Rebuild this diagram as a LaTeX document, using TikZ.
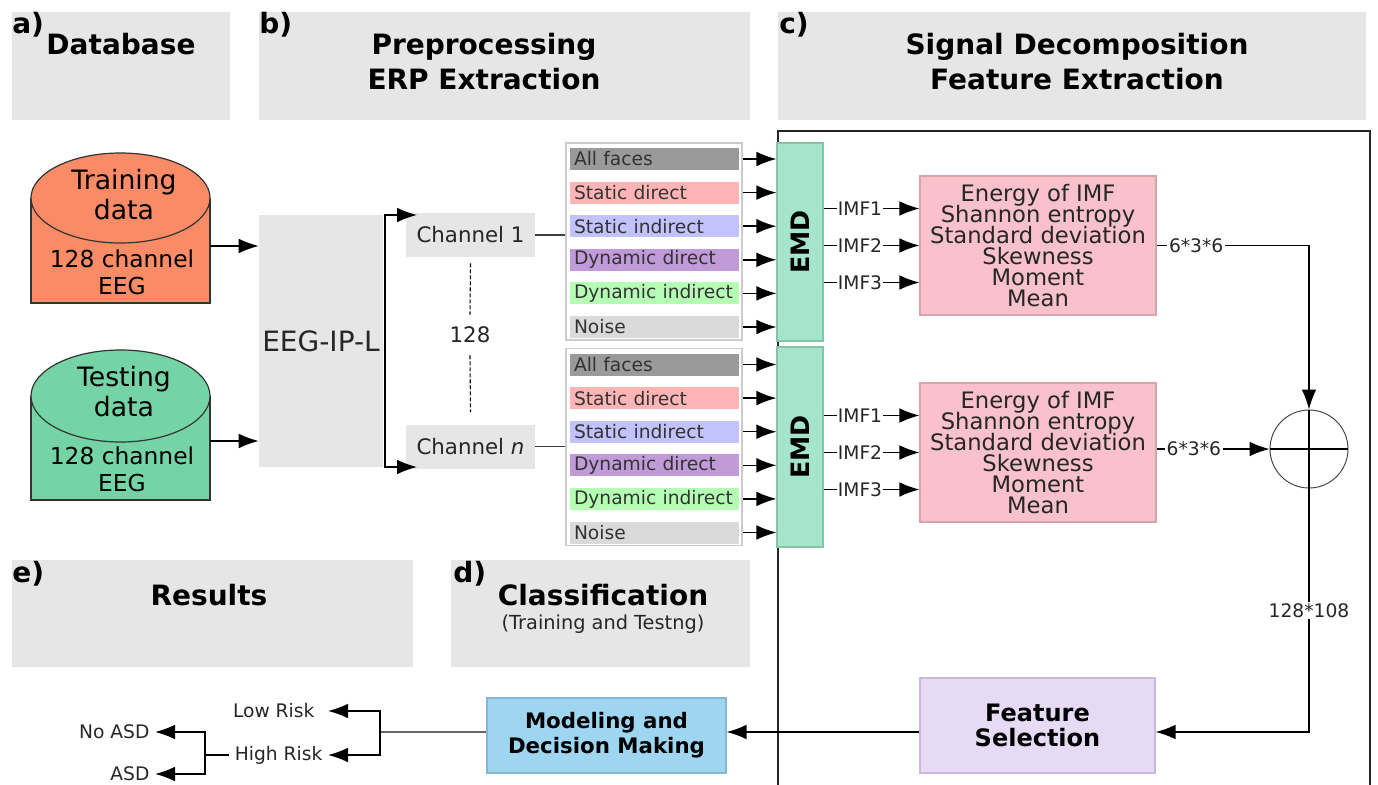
\documentclass[tikz,border=0pt]{standalone}
\usepackage{fontspec}
\setmainfont{DejaVu Sans}
\usetikzlibrary{arrows.meta,calc}
\definecolor{hdr}{HTML}{E6E6E6}
\definecolor{trainC}{HTML}{F98B66}
\definecolor{testC}{HTML}{74D4A6}
\definecolor{cAll}{HTML}{9A9A9A}
\definecolor{cSD}{HTML}{FFB5B5}
\definecolor{cSI}{HTML}{C2C2FF}
\definecolor{cDD}{HTML}{C19BD9}
\definecolor{cDI}{HTML}{B5FFB5}
\definecolor{cNo}{HTML}{DADADA}
\definecolor{emdC}{HTML}{A5E5CB}
\definecolor{emdD}{HTML}{86C4A8}
\definecolor{featC}{HTML}{F8C1CB}
\definecolor{featD}{HTML}{D9A3AC}
\definecolor{fsC}{HTML}{E7DAF5}
\definecolor{fsD}{HTML}{C9B9DE}
\definecolor{mdmC}{HTML}{9ED6F2}
\definecolor{mdmD}{HTML}{86B7D1}
\newcommand\fHead{\fontsize{21pt}{26.25pt}\selectfont\bfseries}
\newcommand\fSub{\fontsize{14.5pt}{17pt}\selectfont}
\newcommand\fCylA{\fontsize{20pt}{22.5pt}\selectfont}
\newcommand\fCylB{\fontsize{17.5pt}{20.25pt}\selectfont}
\newcommand\fEEG{\fontsize{21pt}{25pt}\selectfont}
\newcommand\fCh{\fontsize{16pt}{19pt}\selectfont}
\newcommand\fItem{\fontsize{14pt}{16pt}\selectfont}
\newcommand\fEMD{\fontsize{19pt}{22pt}\selectfont\bfseries}
\newcommand\fSmall{\fontsize{14pt}{16pt}\selectfont}
\newcommand\fFeat{\fontsize{17pt}{15.75pt}\selectfont\lineskiplimit=-20pt}
\newcommand\fFS{\fontsize{18pt}{18.75pt}\selectfont\bfseries}
\newcommand\fMdm{\fontsize{16pt}{18.75pt}\selectfont\bfseries}
\begin{document}
\begin{tikzpicture}[x=0.75pt,y=-0.75pt,
  sz/.style 2 args={minimum width={(#1)*0.75pt}, minimum height={(#2)*0.75pt}, inner sep=0pt},
  hbox/.style={fill=hdr, draw=none},
  ln/.style={line width=1.1pt},
  arr/.style={-{Latex[length=15pt,width=11pt]}, line width=1.1pt, black},
  item/.style={fill=#1, minimum height=16.5pt, text width=120.75pt, inner xsep=3pt, inner ysep=0pt, align=left, font=\fItem, text=black!80},
  lbl/.style={fill=white, font=\fSmall, inner xsep=1.5pt, inner ysep=1pt, text=black!85},
  hlab/.style={font=\fHead, inner sep=0pt, anchor=base west},
  htxt/.style={font=\fHead, inner sep=0pt}
]
\fill[white] (0,0) rectangle (1378,785);
\useasboundingbox (0,0) rectangle (1378,785);

% ---------- headers ----------
\node[sz={218}{108}, hbox] (hA) at (121,66) {};
\node[hlab] (la) at (12,33) {a)};
\node[htxt, anchor=base] (tA) at (121,54) {Database};

\node[sz={491}{108}, hbox] (hB) at (504.5,66) {};
\node[hlab] (lb) at (259,33) {b)};
\node[htxt, align=center] (tB) at (484,62) {Preprocessing\\ERP Extraction};

\node[sz={588}{108}, hbox] (hC) at (1072,66) {};
\node[hlab] (lc) at (779,33) {c)};
\node[htxt, align=center] (tC) at (1077,62) {Signal Decomposition\\Feature Extraction};

\node[sz={401}{107}, hbox] (hE) at (212.5,613.5) {};
\node[hlab] (le) at (12,582) {e)};
\node[htxt, anchor=base] (tE) at (209,605) {Results};

\node[sz={299}{107}, hbox] (hD) at (600.5,613.5) {};
\node[hlab] (ld) at (453,582) {d)};
\node[htxt, anchor=base] (tD) at (603,605) {Classification};
\node[font=\fSub, inner sep=0pt, anchor=base, text=black!85] (tD2) at (603,629) {(Training and Testng)};

% ---------- frame of c ----------
\draw[line width=1.2pt, black!85] (778,786) -- (778,131) -- (1370,131) -- (1370,786);

% ---------- cylinders ----------
\node[sz={179}{150}] (train) at (120.5,228) {};
\fill[trainC] (31,198) rectangle (210,303);
\draw[line width=0.9pt, black!80] (31,198) -- (31,303) -- (210,303) -- (210,198);
\filldraw[fill=trainC, draw=black!80, line width=0.9pt] (120.5,198) ellipse [x radius=67.125pt, y radius=33.75pt];
\node[align=center, font=\fCylA, inner sep=0pt] (trainT) at (124,195) {Training\\data};
\node[align=center, font=\fCylB, inner sep=0pt] (trainS) at (122,272.7) {128 channel\\EEG};

\node[sz={179}{150}] (test) at (120.5,425) {};
\fill[testC] (31,396) rectangle (210,500);
\draw[line width=0.9pt, black!80] (31,396) -- (31,500) -- (210,500) -- (210,396);
\filldraw[fill=testC, draw=black!80, line width=0.9pt] (120.5,396) ellipse [x radius=67.125pt, y radius=34.5pt];
\node[align=center, font=\fCylA, inner sep=0pt] (testT) at (124,392) {Testing\\data};
\node[align=center, font=\fCylB, inner sep=0pt] (testS) at (122,469.7) {128 channel\\EEG};

% ---------- EEG-IP-L ----------
\node[sz={124}{252}, fill=hdr, font=\fEEG, text=black!85] (eeg) at (321,341) {EEG-IP-L};
\draw[arr] ([yshift=-13.5pt]train.east) -- ([yshift=-13.5pt]train.east -| eeg.west);
\draw[arr] ([yshift=-12pt]test.east) -- ([yshift=-12pt]test.east -| eeg.west);

% ---------- channels ----------
\node[sz={129}{44}, fill=hdr, font=\fCh, text=black!85] (ch1) at (470.5,235) {Channel 1};
\node[sz={129}{44}, fill=hdr, font=\fCh, text=black!85] (chn) at (470.5,446.5) {Channel \textit{n}};
\coordinate (brT) at (385,215);
\coordinate (brB) at (385,467);
\coordinate (tipT) at (417,215);
\coordinate (tipB) at (417,467);
\draw[{Latex[length=15pt,width=11pt]}-{Latex[length=15pt,width=11pt]}, line width=1.1pt] (tipT) -- (brT) -- (brB) -- (tipB);
\node[font=\fCh, inner sep=9pt, text=black!85] (n128) at (470,335) {128};
\draw[line width=0.8pt, dash pattern=on 3pt off 1.5pt] ([yshift=-4.5pt]ch1.south) -- (n128.north);
\draw[line width=0.8pt, dash pattern=on 3pt off 1.5pt] (n128.south) -- ([yshift=9pt]chn.north);

% ---------- EMD boxes ----------
\node[sz={46}{198}, fill=emdC, draw=emdD, line width=0.8pt] (emd1) at (800,242) {\rotatebox{90}{\fEMD EMD}};
\node[sz={46}{200}, fill=emdC, draw=emdD, line width=0.8pt] (emd2) at (800,447) {\rotatebox{90}{\fEMD EMD}};

% ---------- condition lists ----------
\foreach \lb/\ly in {1/0, 2/205.5} {
  \node[sz={176}{197}, draw=black!20, line width=0.8pt, fill=white] (list\lb) at (654,{241.5+\ly}) {};
  \foreach \i/\cc/\txt [count=\k] in {a/cAll/All faces, b/cSD/Static direct, c/cSI/Static indirect, d/cDD/Dynamic direct, e/cDI/Dynamic indirect, f/cNo/Noise} {
    \node[item=\cc] (it\lb\i) at (654.5,{159+33.6*(\k-1)+\ly}) {\txt};
    \draw[arr] (it\lb\i.east -| list\lb.east) -- (it\lb\i.east -| emd\lb.west);
  }
}
\draw[ln, black!75] (ch1.east) -- (ch1.east -| list1.west);
\draw[ln, black!75] (chn.east) -- (chn.east -| list2.west);

% ---------- feature boxes ----------
\node[sz={236}{139}, fill=featC, draw=featD, line width=0.8pt, align=center, font=\fFeat, text=black!85] (fb1) at (1038,245.5) {Energy of IMF\\Shannon entropy\\Standard deviation\\Skewness\\Moment\\Mean};
\node[sz={236}{139}, fill=featC, draw=featD, line width=0.8pt, align=center, font=\fFeat, text=black!85] (fb2) at (1038,452.5) {Energy of IMF\\Shannon entropy\\Standard deviation\\Skewness\\Moment\\Mean};

\foreach \b in {1,2} {
  \foreach \n/\dy in {1/27.75, 2/0, 3/-27.75} {
    \path ([yshift=\dy pt]fb\b.west) coordinate (imf\b\n);
    \draw[arr] (emd\b.east |- imf\b\n) -- node[lbl, pos=0.38, inner xsep=1pt, inner ysep=0pt]{IMF\n} (imf\b\n);
  }
}

% ---------- sum ----------
\node[circle, draw=black!75, line width=0.7pt, minimum size=58.5pt, inner sep=0pt] (sum) at (1309,449) {};
\draw[ln] (sum.north) -- (sum.south);
\draw[ln] (sum.west) -- (sum.east);
\draw[arr] (fb1.east) -- node[lbl, pos=0.26]{6*3*6} (fb1.east -| sum.north) -- (sum.north);
\draw[arr] (fb2.east |- sum.west) -- node[lbl, pos=0.33]{6*3*6} (sum.west);

% ---------- feature selection & modeling ----------
\node[sz={235}{95}, fill=fsC, draw=fsD, line width=0.8pt, align=center, font=\fFS] (fs) at (1037.5,725.5) {Feature\\Selection};
\node[sz={239}{75}, fill=mdmC, draw=mdmD, line width=0.8pt, align=center, font=\fMdm] (mdm) at (606.5,735.5) {Modeling and\\Decision Making};
\coordinate (flow) at (1309,732);
\draw[arr] (sum.south) -- node[lbl, pos=0.5]{128*108} (flow) -- (flow -| fs.east);
\draw[arr] (flow -| fs.west) -- (flow -| mdm.east);

% ---------- results ----------
\coordinate (jr) at (380,732);
\coordinate (jl) at (205,755);
\node[anchor=east, font=\fSmall, inner xsep=10pt, inner ysep=1pt, text=black!85] (low) at (328,711) {Low Risk};
\node[anchor=east, font=\fSmall, inner xsep=4pt, inner ysep=1pt, text=black!85] (high) at (328,755) {High Risk};
\node[anchor=east, font=\fSmall, inner xsep=4pt, inner ysep=1pt, text=black!85] (noasd) at (155,732) {No ASD};
\node[anchor=east, font=\fSmall, inner xsep=4pt, inner ysep=0pt, text=black!85] (asd) at (155,774) {ASD};
\draw[ln, black!60] (flow -| mdm.west) -- (jr);
\draw[arr] (jr) -- (jr |- low.east) -- (low.east);
\draw[arr] (jr) -- (jr |- high.east) -- (high.east);
\draw[ln] (high.west) -- (jl);
\draw[arr] (jl) -- (jl |- noasd.east) -- (noasd.east);
\draw[arr] (jl) -- (jl |- asd.east) -- (asd.east);
\end{tikzpicture}
\end{document}
